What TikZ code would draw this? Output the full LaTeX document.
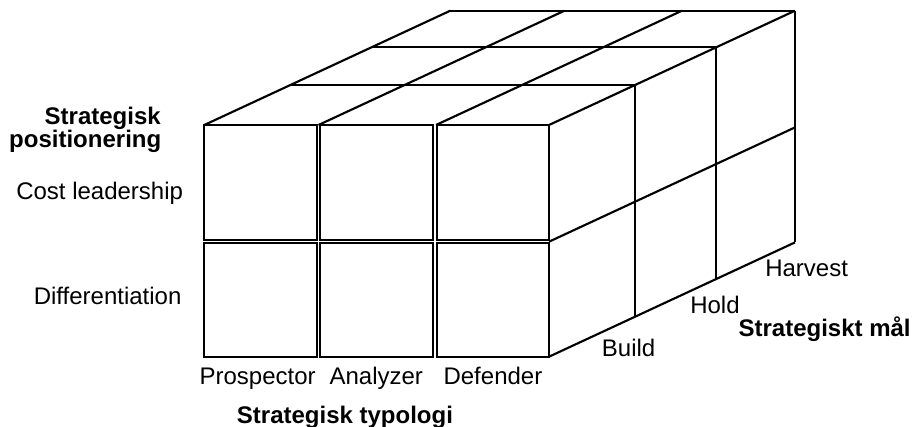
\documentclass[tikz,border=0pt]{standalone}
\usepackage{fontspec}
\setmainfont{Liberation Sans}
\begin{document}
\begin{tikzpicture}[x=0.75pt,y=-0.75pt,
  edge/.style={line width=1.6pt, line join=miter},
  lbl/.style={inner sep=0pt, font=\fontsize{18}{21.6}\selectfont},
  blbl/.style={inner sep=0pt, font=\fontsize{18}{21.6}\selectfont\bfseries}]
\useasboundingbox (0,0) rectangle (913,427);
% front face: six separate boxes
\foreach \xa/\xb in {204.3/317.2, 319.8/433.3, 436.7/549}{
  \draw[edge] (\xa,125) rectangle (\xb,240.3);
  \draw[edge] (\xa,243) rectangle (\xb,356.7);
}
% top face: depth lines
\foreach \dx/\dy in {86.1/-40, 167.2/-77.7, 246/-114.3}{
  \draw[edge] (204.3+\dx,125+\dy) -- (549+\dx,125+\dy);
}
% top face: slanted lines from column boundaries
\foreach \x in {204.3,318.5,436,549}{
  \draw[edge] (\x,125) -- ++(246,-114.3);
}
% right face: slanted lines
\foreach \y in {241.7,356.7}{
  \draw[edge] (549,\y) -- ++(246,-114.3);
}
% right face: vertical lines
\foreach \dx/\dy in {86.1/-40, 167.2/-77.7, 246/-114.3}{
  \draw[edge] (549+\dx,125+\dy) -- (549+\dx,356.7+\dy);
}
% labels
\node[blbl, anchor=base east] (pos1) at (161,125) {Strategisk};
\node[blbl, anchor=base east] (pos2) at (161.5,148) {positionering};
\node[lbl, anchor=base east] (cost) at (183.3,200) {Cost leadership};
\node[lbl, anchor=base east] (diff) at (181.7,305) {Differentiation};
\node[lbl, anchor=base west] (pro) at (199.3,384.3) {Prospector};
\node[lbl, anchor=base west] (ana) at (329.3,384.3) {Analyzer};
\node[lbl, anchor=base west] (def) at (443.3,384.3) {Defender};
\node[blbl, anchor=base west] (typ) at (236.7,423.3) {Strategisk typologi};
\node[lbl, anchor=base west] (build) at (601.7,356.7) {Build};
\node[lbl, anchor=base west] (hold) at (690,313.3) {Hold};
\node[lbl, anchor=base west] (harv) at (765,276.7) {Harvest};
\node[blbl, anchor=base west] (mal) at (738.3,336.7) {Strategiskt mål};
\end{tikzpicture}
\end{document}
